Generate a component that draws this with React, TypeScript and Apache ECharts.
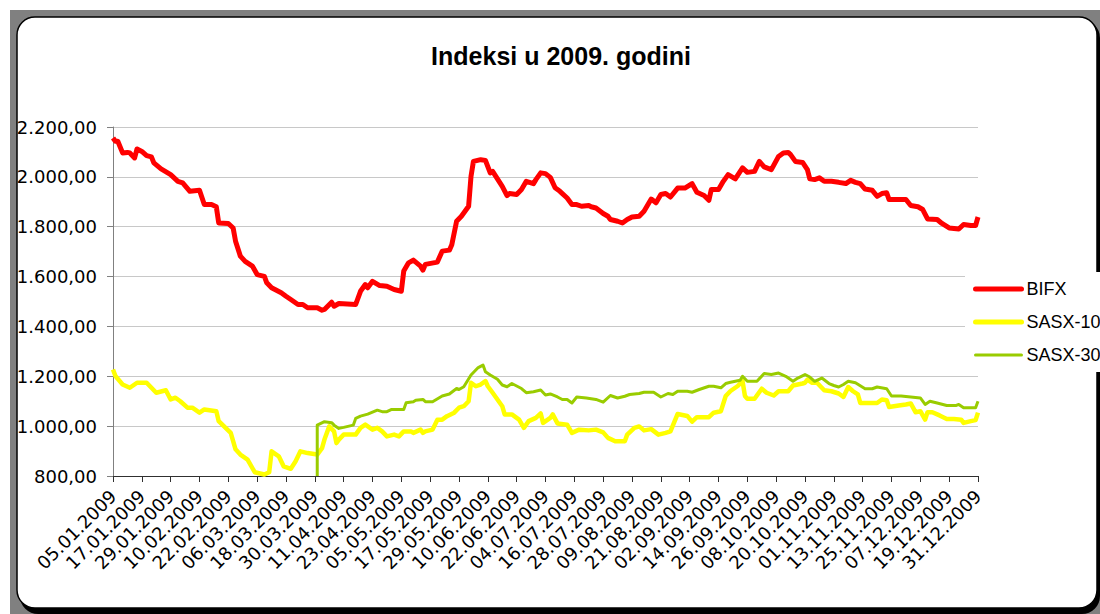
import React, { useEffect, useRef } from "react";
import * as echarts from "echarts";

// Day offsets are counted from 05.01.2009
const bifxDays = [0,1,2,4,6,7,9,10,12,14,16,17,20,24,27,29,32,36,38,41,43,44,48,50,51,53,55,58,60,63,64,66,70,72,74,77,79,81,85,87,88,91,92,94,101,103,105,106,108,111,114,117,120,121,123,125,128,129,130,135,137,140,141,143,145,148,149,150,153,155,157,158,160,162,164,165,168,170,172,175,176,178,180,182,184,186,189,191,193,195,198,199,201,204,206,207,210,212,214,216,219,221,224,226,228,230,232,235,238,241,243,246,248,249,252,254,256,259,262,264,267,269,271,274,277,279,281,282,284,287,289,290,292,294,296,299,302,305,307,309,311,313,316,318,320,322,323,330,332,335,337,339,343,345,348,352,354,357,359,360];
const bifxValues = [2156,2143,2143,2096,2098,2096,2076,2112,2102,2085,2080,2056,2032,2009,1982,1976,1942,1946,1889,1889,1880,1815,1813,1795,1742,1682,1661,1642,1608,1601,1575,1555,1535,1521,1508,1488,1488,1475,1475,1465,1468,1497,1481,1492,1488,1541,1568,1555,1581,1564,1561,1548,1541,1622,1655,1666,1642,1626,1649,1658,1702,1706,1728,1822,1842,1882,2002,2062,2069,2066,2016,2022,1992,1962,1925,1933,1929,1949,1982,1973,1989,2016,2013,1998,1956,1942,1915,1889,1889,1882,1885,1880,1875,1853,1842,1829,1822,1815,1829,1839,1842,1862,1911,1896,1929,1933,1919,1955,1955,1973,1938,1925,1906,1949,1949,1982,2009,1992,2036,2018,2022,2062,2040,2029,2082,2096,2098,2089,2062,2058,2029,1992,1989,1996,1982,1982,1978,1973,1986,1978,1973,1951,1946,1922,1933,1936,1909,1909,1885,1880,1869,1831,1829,1813,1795,1791,1809,1805,1805,1839];

const sasx10Days = [0,1,4,7,10,14,16,18,22,24,26,28,31,33,36,38,43,44,49,51,53,56,59,63,65,66,69,71,74,76,78,81,85,87,88,90,92,93,94,96,101,103,105,108,110,112,114,117,119,121,124,125,128,129,130,133,135,137,139,142,144,146,148,149,151,153,155,156,158,160,162,163,166,169,171,173,176,178,179,182,183,185,189,191,194,198,201,204,206,209,213,214,217,219,221,224,227,230,232,235,239,241,243,248,250,253,255,257,260,262,263,264,267,270,272,275,277,281,283,287,288,289,291,293,296,299,302,304,306,308,310,311,318,320,322,323,327,330,332,334,336,338,339,341,344,347,350,353,354,357,359,360];
const sasx10Values = [1227,1201,1167,1154,1174,1174,1154,1134,1144,1107,1114,1100,1074,1074,1054,1067,1060,1020,973,907,886,866,815,806,815,899,879,839,829,859,899,892,886,912,946,999,979,932,946,966,966,993,1006,986,993,979,959,966,959,979,979,973,986,973,979,986,1026,1026,1040,1054,1074,1080,1100,1174,1160,1167,1181,1160,1134,1107,1080,1047,1047,1026,993,1020,1033,1051,1013,1033,1047,1011,1006,973,986,983,986,975,953,939,939,966,993,999,983,988,966,973,979,1049,1041,1018,1036,1036,1054,1060,1121,1141,1161,1181,1121,1110,1110,1150,1134,1123,1140,1140,1163,1171,1174,1187,1174,1174,1144,1140,1131,1117,1157,1140,1127,1093,1093,1107,1104,1077,1083,1087,1091,1056,1060,1026,1056,1056,1043,1029,1029,1026,1013,1020,1024,1054];

const sasx30Days = [85,85,88,91,92,94,96,100,101,103,106,110,112,114,116,121,122,125,126,129,130,133,137,140,143,144,146,149,152,154,155,157,160,162,164,166,168,170,172,175,178,180,182,185,187,189,191,193,197,201,204,207,210,213,215,219,221,225,228,231,233,235,239,241,244,248,250,253,255,257,261,262,264,268,271,274,277,280,283,285,288,290,292,295,298,300,302,304,306,309,313,316,318,322,324,328,332,336,338,340,343,347,351,352,354,359,360];
const sasx30Values = [800,1004,1018,1014,1004,991,995,1004,1031,1040,1048,1064,1058,1058,1067,1067,1094,1098,1104,1107,1098,1098,1121,1129,1151,1147,1158,1205,1235,1245,1218,1205,1188,1165,1158,1171,1161,1151,1134,1138,1145,1125,1129,1117,1107,1107,1093,1117,1113,1107,1096,1123,1113,1120,1127,1131,1136,1136,1117,1131,1127,1140,1140,1136,1147,1160,1160,1154,1171,1176,1184,1200,1180,1180,1211,1207,1213,1200,1180,1193,1207,1197,1180,1193,1171,1163,1157,1167,1180,1174,1150,1150,1157,1150,1121,1121,1117,1113,1087,1100,1093,1083,1083,1087,1074,1074,1100];

const seriesNames = ["BIFX", "SASX-10", "SASX-30"];
const seriesColors = ["#FF0000", "#FFFF00", "#99CC00"];
const titleText = "Indeksi u 2009. godini";
const startDateUTC = Date.UTC(2009, 0, 5);
const FONT = "Liberation Sans, Arial, sans-serif";
const AXIS_FONT = "DejaVu Sans, Liberation Sans, sans-serif";

const pad = (n: number) => (n < 10 ? "0" + n : "" + n);
const dayLabel = (v: number) => {
  const d = new Date(startDateUTC + v * 86400000);
  return pad(d.getUTCDate()) + "." + pad(d.getUTCMonth() + 1) + "." + d.getUTCFullYear();
};
const numLabel = (v: number) => {
  const s = Math.round(v).toString();
  const withSep = s.replace(/\B(?=(\d{3})+(?!\d))/g, ".");
  return withSep + ",00";
};
const zip = (a: number[], b: number[]) => a.map((x, i) => [x, b[i]]);

export default function App() {
  const ref = useRef<HTMLDivElement>(null);
  useEffect(() => {
    if (!ref.current) return;
    const chart = echarts.init(ref.current, null, { renderer: "svg" });
    const widths = [5, 4.5, 3];
    const legendWidths = [5, 5, 3];
    const datas = [zip(bifxDays, bifxValues), zip(sasx10Days, sasx10Values), zip(sasx30Days, sasx30Values)];
    chart.setOption({
      animation: false,
      backgroundColor: "#ffffff",
      graphic: [
        { type: "rect", z: -30, silent: true, shape: { x: 10, y: 10, width: 1090, height: 604 }, style: { fill: "#808080" } },
        { type: "rect", z: -29, silent: true, shape: { x: 20, y: 20, width: 1080, height: 594, r: 18 }, style: { fill: "#000000" } },
        { type: "rect", z: -28, silent: true, shape: { x: 17, y: 17, width: 1080, height: 591, r: 18 }, style: { fill: "#ffffff", stroke: "#000000", lineWidth: 1.5 } },
      ],
      title: {
        text: titleText,
        left: 556,
        top: 38,
        textAlign: "center",
        textStyle: { fontFamily: FONT, fontSize: 25, fontWeight: "bold", color: "#000000" },
      },
      legend: {
        orient: "vertical",
        left: 965,
        top: 272,
        itemWidth: 46,
        itemHeight: 14,
        itemGap: 15,
        padding: [8, 0, 8, 8],
        backgroundColor: "#ffffff",
        itemStyle: { color: "rgba(0,0,0,0)", borderWidth: 0, opacity: 0 },
        textStyle: { fontFamily: FONT, fontSize: 18, lineHeight: 18, color: "#000000" },
        data: seriesNames.map((name, i) => ({
          name,
          lineStyle: { color: seriesColors[i], width: legendWidths[i], cap: "round" },
        })),
      },
      grid: { left: 113, right: 122, top: 127, bottom: 138, containLabel: false, outerBoundsMode: "none" },
      xAxis: {
        type: "value",
        min: 0,
        max: 360,
        interval: 12,
        axisLine: { lineStyle: { color: "#303030", width: 1 } },
        axisTick: { show: true, length: 6, lineStyle: { color: "#303030" } },
        splitLine: { show: false },
        axisLabel: {
          rotate: 45,
          margin: 17,
          formatter: dayLabel,
          fontFamily: AXIS_FONT,
          fontSize: 18,
          color: "#000000",
        },
      },
      yAxis: {
        type: "value",
        min: 800,
        max: 2200,
        interval: 200,
        axisLine: { show: true, lineStyle: { color: "#808080", width: 1 } },
        axisTick: { show: true, length: 6, lineStyle: { color: "#808080" } },
        splitLine: { show: true, lineStyle: { color: "#C8C8C8", width: 1 } },
        axisLabel: { formatter: numLabel, margin: 16, fontFamily: AXIS_FONT, fontSize: 18, color: "#000000" },
      },
      series: seriesNames.map((name, i) => ({
        name,
        type: "line",
        data: datas[i],
        showSymbol: false,
        symbol: "none",
        color: seriesColors[i],
        lineStyle: { color: seriesColors[i], width: widths[i], join: "round" },
        z: 2 + i,
      })),
    });
    return () => chart.dispose();
  }, []);
  return <div ref={ref} style={{ position: "fixed", left: 0, top: 0, width: 1100, height: 614 }} />;
}
